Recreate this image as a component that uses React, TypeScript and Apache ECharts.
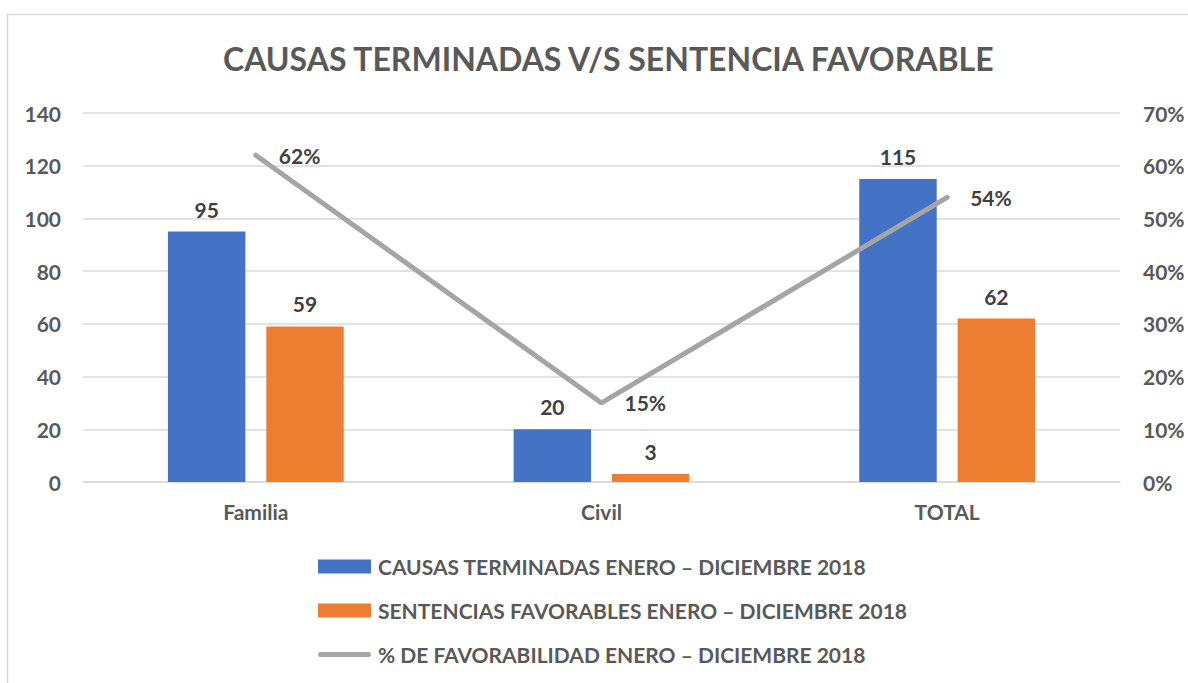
import React, { useEffect, useRef } from "react";
import * as echarts from "echarts";

const categories = ["Familia", "Civil", "TOTAL"];
const causasTerminadas = [95, 20, 115];
const sentenciasFavorables = [59, 3, 62];
const favorabilidad = [0.62, 0.15, 0.54];
const seriesNames = [
  "CAUSAS TERMINADAS ENERO – DICIEMBRE 2018",
  "SENTENCIAS FAVORABLES ENERO – DICIEMBRE 2018",
  "% DE FAVORABILIDAD ENERO – DICIEMBRE 2018",
];
const titleText = "CAUSAS TERMINADAS V/S SENTENCIA FAVORABLE";

const FONT = "Lato, 'Liberation Sans', sans-serif";
const AXIS_COLOR = "#595959";
const LABEL_COLOR = "#404040";
const FS = 21;
const LINE_ICON =
  "path://M0,0 L0.01,0 L0,0.01 Z M0,14 L0.01,14 L0,13.99 Z M2.5,4.5 L50.5,4.5 A2.5,2.5 0 0 1 50.5,9.5 L2.5,9.5 A2.5,2.5 0 0 1 2.5,4.5 Z";

export default function App() {
  const ref = useRef<HTMLDivElement>(null);
  useEffect(() => {
    if (!ref.current) return;
    const chart = echarts.init(ref.current, undefined, { renderer: "svg" });
    const barLabel = {
      show: true,
      position: "top",
      distance: 12,
      fontFamily: FONT,
      fontSize: FS,
      fontWeight: "bold",
      color: LABEL_COLOR,
    };
    chart.setOption({
      animation: false,
      textStyle: { fontFamily: FONT },
      title: {
        text: titleText,
        left: 218,
        top: 37,
        textStyle: { fontFamily: FONT, fontSize: 32, fontWeight: "bold", color: AXIS_COLOR },
      },
      graphic: [
        {
          type: "rect",
          shape: { x: 7.5, y: 14.5, width: 1300, height: 800 },
          style: { fill: "none", stroke: "#D9D9D9", lineWidth: 1.5 },
          silent: true,
        },
      ],
      legend: {
        orient: "vertical",
        left: 313,
        top: 551,
        itemWidth: 53,
        itemHeight: 14,
        itemGap: 23,
        textStyle: { fontFamily: FONT, fontSize: FS, fontWeight: "bold", color: AXIS_COLOR, padding: [0, 0, 0, 2] },
        data: [
          { name: seriesNames[0], icon: "rect" },
          { name: seriesNames[1], icon: "rect" },
          { name: seriesNames[2], icon: LINE_ICON },
        ],
      },
      grid: { left: 83, right: 68, top: 113, bottom: 683 - 482 },
      xAxis: {
        type: "category",
        data: categories,
        axisLine: { show: true, lineStyle: { color: "#D9D9D9", width: 1.5 } },
        axisTick: { show: false },
        axisLabel: { margin: 19, fontFamily: FONT, fontSize: FS, fontWeight: "bold", color: AXIS_COLOR },
      },
      yAxis: [
        {
          type: "value",
          min: 0,
          max: 140,
          interval: 20,
          axisLine: { show: false },
          axisTick: { show: false },
          splitLine: { lineStyle: { color: "#D9D9D9", width: 1.5 } },
          axisLabel: { margin: 22, fontFamily: FONT, fontSize: FS, fontWeight: "bold", color: AXIS_COLOR },
        },
        {
          type: "value",
          min: 0,
          max: 0.7,
          interval: 0.1,
          axisLine: { show: false },
          axisTick: { show: false },
          splitLine: { show: false },
          axisLabel: {
            margin: 23,
            fontFamily: FONT,
            fontSize: FS,
            fontWeight: "bold",
            color: AXIS_COLOR,
            formatter: (v: number) => Math.round(v * 100) + "%",
          },
        },
      ],
      series: [
        {
          name: seriesNames[0],
          type: "bar",
          data: causasTerminadas,
          barWidth: "22.4%",
          barGap: "27%",
          itemStyle: { color: "#4472C4" },
          label: barLabel,
        },
        {
          name: seriesNames[1],
          type: "bar",
          data: sentenciasFavorables,
          barWidth: "22.4%",
          barGap: "27%",
          itemStyle: { color: "#ED7D31" },
          label: barLabel,
        },
        {
          name: seriesNames[2],
          type: "line",
          yAxisIndex: 1,
          data: favorabilidad,
          symbol: "circle",
          symbolSize: 2,
          showSymbol: true,
          lineStyle: { color: "#A5A5A5", width: 5, cap: "round" },
          itemStyle: { color: "#A5A5A5" },
          label: {
            show: true,
            position: "right",
            distance: 22,
            fontFamily: FONT,
            fontSize: FS,
            fontWeight: "bold",
            color: LABEL_COLOR,
            formatter: (p: any) => Math.round(p.value * 100) + "%",
          },
        },
      ],
    });
    return () => chart.dispose();
  }, []);
  return (
    <div
      ref={ref}
      style={{ position: "fixed", left: 0, top: 0, width: 1188, height: 683, background: "#fff" }}
    />
  );
}
